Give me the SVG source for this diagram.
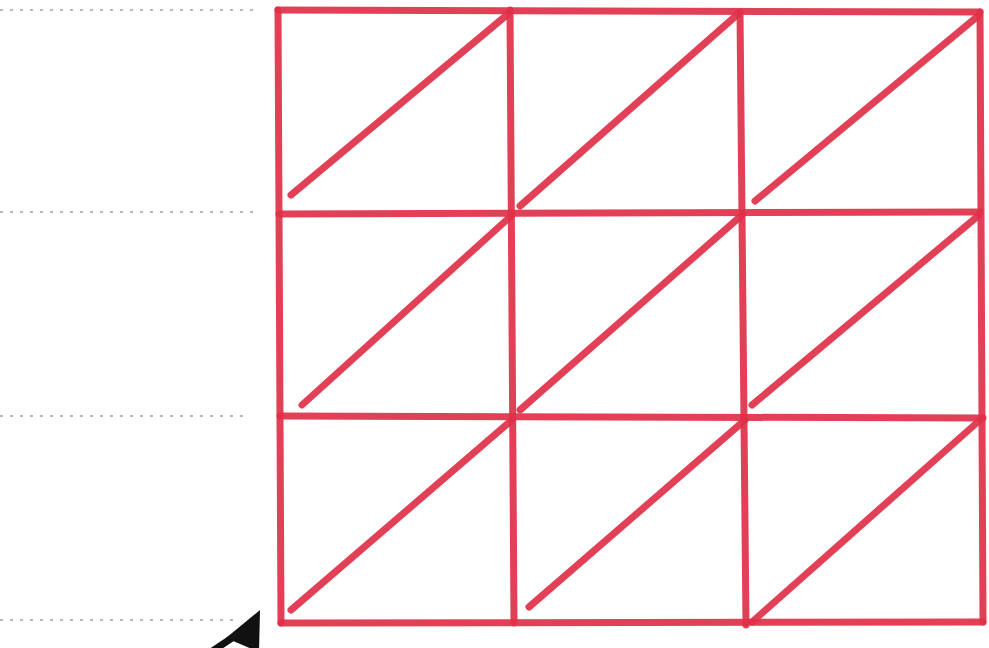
<svg xmlns="http://www.w3.org/2000/svg" width="989" height="648" viewBox="0 0 989 648">
<style>
.g{stroke:#e03048;stroke-width:7;stroke-linecap:round;fill:none;opacity:0.92}
.d{stroke:#b8b8b8;stroke-width:2;stroke-dasharray:3 7;fill:none}
</style>
<rect width="989" height="648" fill="#ffffff"/>
<g id="guides">
<line class="d" x1="0" y1="10" x2="255" y2="10"/>
<line class="d" x1="0" y1="212" x2="255" y2="212"/>
<line class="d" x1="0" y1="416" x2="245" y2="416"/>
<line class="d" x1="0" y1="620" x2="240" y2="620"/>
</g>
<g id="grid">
<path class="g" d="M278,10 L281,623"/>
<path class="g" d="M510,10 L514,623"/>
<path class="g" d="M740,12 L746,625"/>
<path class="g" d="M980,12 L983,622"/>
<path class="g" d="M278,10 L980,12"/>
<path class="g" d="M279,214 L980,212"/>
<path class="g" d="M280,416 L983,418"/>
<path class="g" d="M281,623 L983,622"/>
</g>
<g id="diagonals">
<path class="g" d="M291,195 L508,14"/>
<path class="g" d="M520,206 L738,14"/>
<path class="g" d="M755,201 L978,16"/>
<path class="g" d="M302,405 L511,216"/>
<path class="g" d="M520,410 L742,215"/>
<path class="g" d="M752,405 L978,216"/>
<path class="g" d="M291,610 L512,420"/>
<path class="g" d="M529,607 L745,420"/>
<path class="g" d="M752,622 L980,420"/>
</g>
<g id="arrow">
<line x1="244" y1="630" x2="208" y2="654" stroke="#111" stroke-width="7"/>
<polygon points="260,610 226,638 259,652" fill="#111"/>
</g>
</svg>
